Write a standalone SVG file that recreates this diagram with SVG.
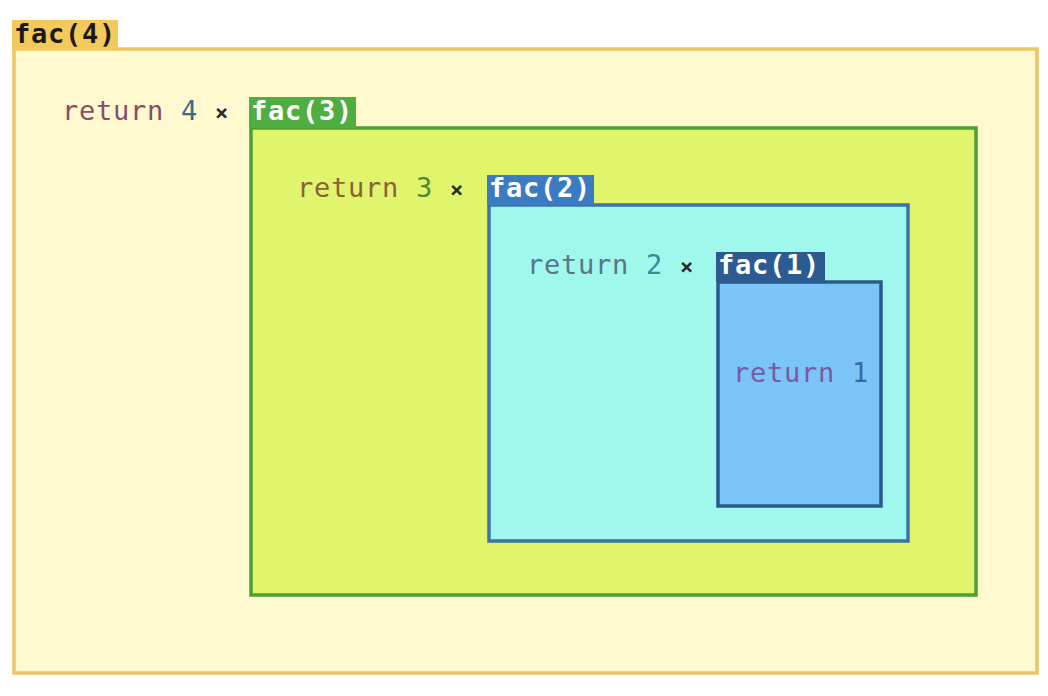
<svg xmlns="http://www.w3.org/2000/svg" width="1048" height="696" viewBox="0 0 1048 696">
<style>
text{font-family:"DejaVu Sans Mono","Liberation Mono",monospace;font-size:27px;letter-spacing:0.75px}
.tab{font-weight:bold;fill:#ffffff}
.x{fill:#2a2a2a;font-weight:bold;font-size:22px}
</style>
<rect width="1048" height="696" fill="#ffffff"/>
<g id="fac4">
<rect x="14" y="49" width="1023" height="624" fill="#fff9cf" stroke="#e9c765" stroke-width="3.5"/>
<rect x="12" y="20" width="106" height="30" fill="#f2c95a"/>
<text x="14" y="43" class="tab" style="fill:#1a1a1a">fac(4)</text>
<text x="62" y="120"><tspan fill="#8a4a6a">return</tspan> <tspan fill="#3a6a8c">4</tspan> <tspan class="x">×</tspan></text>
</g>
<g id="fac3">
<rect x="251" y="128" width="725" height="467" fill="#e0f56c" stroke="#4aa035" stroke-width="3.5"/>
<rect x="249" y="97" width="107" height="31" fill="#4fae3f"/>
<text x="251" y="120" class="tab">fac(3)</text>
<text x="297" y="197"><tspan fill="#8a6238">return</tspan> <tspan fill="#4a8a3a">3</tspan> <tspan class="x">×</tspan></text>
</g>
<g id="fac2">
<rect x="489" y="205" width="419" height="336" fill="#a0f8ec" stroke="#3a74aa" stroke-width="3.5"/>
<rect x="487" y="175" width="107" height="30" fill="#3b7bc2"/>
<text x="489" y="197" class="tab">fac(2)</text>
<text x="527" y="274"><tspan fill="#5a7488">return</tspan> <tspan fill="#3a8a9a">2</tspan> <tspan class="x">×</tspan></text>
</g>
<g id="fac1">
<rect x="718" y="282" width="163" height="224" fill="#7ac4f8" stroke="#2b5a8a" stroke-width="3.5"/>
<rect x="716" y="252" width="109" height="30" fill="#2c5b92"/>
<text x="718" y="274" class="tab">fac(1)</text>
<text x="733" y="382"><tspan fill="#7a5a9e">return</tspan> <tspan fill="#3a6a9c">1</tspan></text>
</g>
<g id="connectors"></g>
</svg>
